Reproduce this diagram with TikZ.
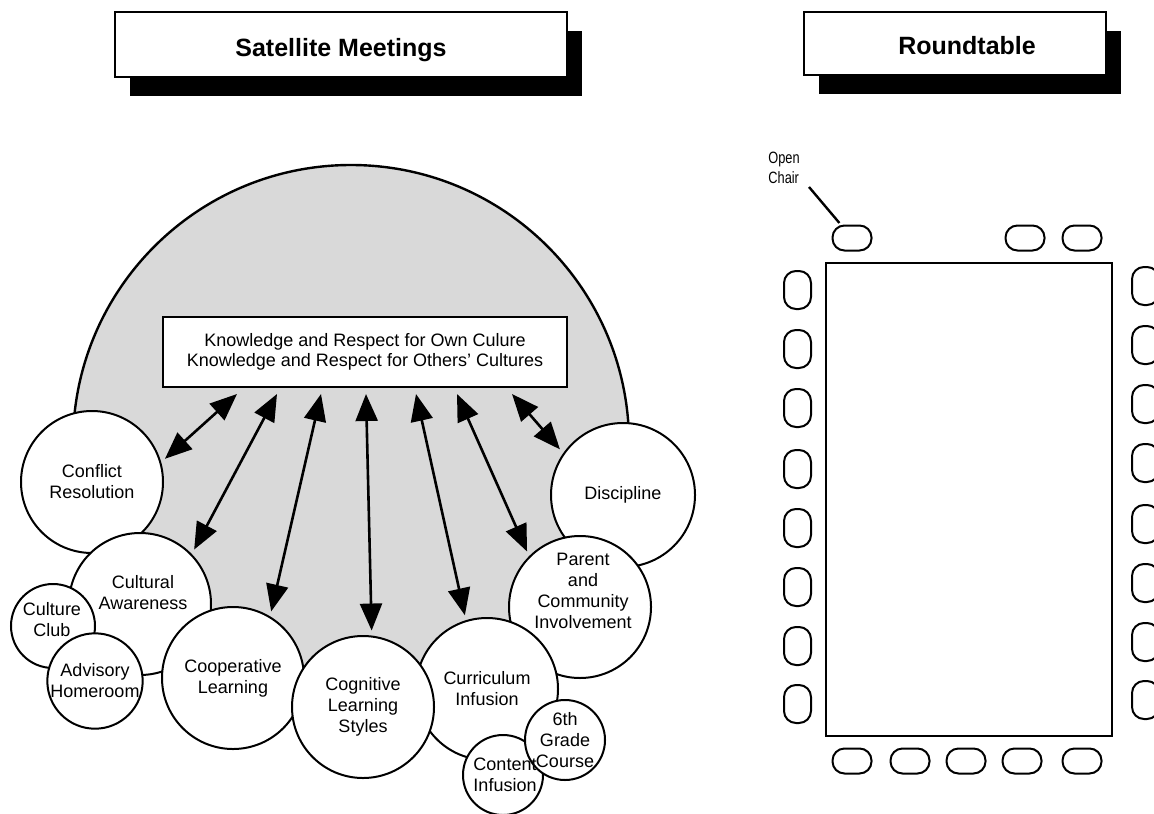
\documentclass[tikz,border=0pt]{standalone}
\usepackage{fontspec}
\setmainfont{Liberation Sans}
\newfontfamily\narrowfont[FakeStretch=0.78]{Liberation Sans}
\usetikzlibrary{calc}
\usetikzlibrary{arrows.meta,shadows}

\begin{document}
\begin{tikzpicture}
% units: one reference pixel, y downwards
[
    x=0.5pt, y=-0.5pt,
    bub/.style={circle, draw, fill=white, line width=1pt, inner sep=0pt,
      minimum size=#1*1pt, align=center, font=\fontsize{9}{10.5}\selectfont},
    lbl/.style={align=center, inner sep=0pt, font=\fontsize{9}{10.5}\selectfont},
    titlebox/.style={draw, fill=white, line width=1pt, inner sep=0pt,
      drop shadow={shadow xshift=7.5pt, shadow yshift=-9.5pt, opacity=1, fill=black}},
    ttl/.style={anchor=base, inner sep=0pt, font=\bfseries\fontsize{12.5}{15}\selectfont},
    twoway/.style={{Triangle[length=13.5pt,width=11pt]}-{Triangle[length=13.5pt,width=11pt]},
      line width=1.3pt, shorten >=2.5pt},
    chairh/.style={draw, line width=1pt, rounded corners=6pt, minimum width=19.5pt, minimum height=12.5pt},
    chairv/.style={draw, line width=1pt, rounded corners=6pt, minimum width=13.5pt, minimum height=19pt}
]
\useasboundingbox (0,0) rectangle (1154,813);

% title boxes
\node[titlebox, minimum width=226pt, minimum height=32.5pt] (satbox) at (341,44.5) {};
\node[ttl] (sattitle) at (341,57) {Satellite Meetings};
\node[titlebox, minimum width=151pt, minimum height=31.5pt] (rtbox) at (955,43.5) {};
\node[ttl] (rttitle) at (967,55) {Roundtable};

% the dome
\begin{scope}
\clip (0,0) -- (720,0) -- (720,495) -- (623,495) -- (580,607) -- (487,689) -- (363,707)
  -- (233,678) -- (140,604) -- (92,482) -- (0,482) -- cycle;
\draw[line width=1.2pt, fill=gray!30] (351,443) circle (278);
\end{scope}
\node[draw, fill=white, line width=1pt, minimum width=202pt, minimum height=35pt, align=center,
  font=\fontsize{9}{10}\selectfont] (know) at (365,352)
  {Knowledge and Respect for Own Culure\\Knowledge and Respect for Others' Cultures};

% satellites
\pgfmathsetmacro{\R}{71} % big circle
\pgfmathsetmacro{\r}{42} % small circle
\node[bub=\R] (conf) at (92,482) {Conflict\\Resolution};
\node[bub=\R] (cult) at (140,604) {};
\node[lbl] (culttxt) at (143,593) {Cultural\\Awareness};
\node[bub=\r] (club) at (53,626) {};
\node[bub=\r+1] (advis) at (95,681) {Advisory\\Homeroom};
\node[lbl] (clubtxt) at (52,620) {Culture\\Club};
\node[bub=\R] (coop) at (233,678) {Cooperative\\Learning};
\node[bub=\R+1] (disc) at (623,495) {Discipline};
\node[bub=\R] (par) at (580,607) {};
\node[lbl] (partxt) at (583,591) {Parent\\and\\Community\\Involvement};
\node[bub=\R] (curr) at (487,689) {Curriculum\\Infusion};
\node[bub=\r-2] (cont) at (503,775) {};
\node[bub=\r-2] (sixth) at (565,740) {6th\\Grade\\Course};
\node[lbl] (conttxt) at (505,775) {Content\\Infusion};
\node[bub=\R] (cogn) at (363,707) {Cognitive\\Learning\\Styles};

% arrows
\foreach \i/\dx in {1/75,2/115,3/159,4/204,5/254,6/295,7/350}
  \coordinate (k\i) at ($(know.south west)+(\dx,6)$);
\draw[twoway] (k1) -- (conf.16);
\draw[twoway] (k2) -- (cult.44);
\draw[twoway] (k3) -- (coop.59);
\draw[twoway] (k4) -- (cogn.83);
\draw[twoway] (k5) -- (curr.107);
\draw[twoway] (k6) -- (par.135);
\draw[twoway] (k7) -- (disc.145);

% roundtable
\node[draw, line width=1pt, minimum width=143pt, minimum height=236.5pt] (table) at (969,499.5) {};
\node[chairh] (t1) at (852,238) {};
\node[chairh] (t2) at (1025,238) {};
\node[chairh] (t3) at (1082,238) {};
\foreach \x [count=\i] in {852,910,966,1022,1082}
  \node[chairh] (b\i) at (\x,761) {};
\foreach \y [count=\i] in {290,349,408,469,528,587,646,704}
  \node[chairv] (l\i) at (797.5,\y) {};
\foreach \y [count=\i] in {286,345,404,463,524,583,642,700}
  \node[chairv] (r\i) at (1145.5,\y) {};

% open chair
\node[anchor=north west, align=left, inner sep=0pt,
  font=\narrowfont\fontsize{8.2}{10}\selectfont] (open) at (768,152) {Open\\Chair};
\coordinate (ptr) at (809,187);
\draw[line width=1.2pt, shorten >=1pt] (ptr) -- (t1.130);
\end{tikzpicture}
\end{document}
